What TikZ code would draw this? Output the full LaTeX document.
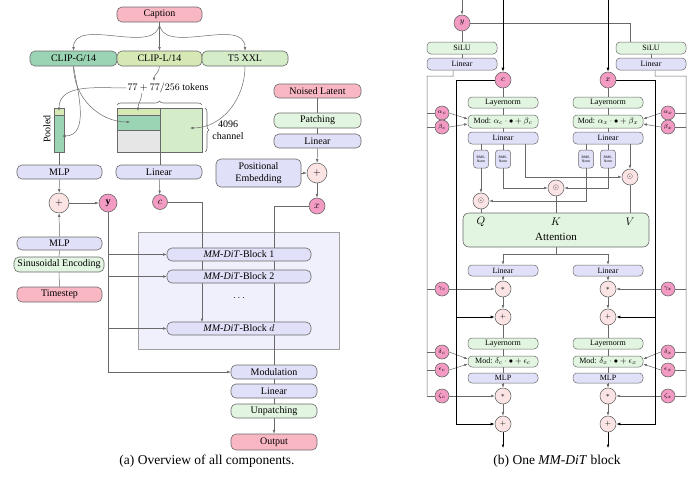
\documentclass[tikz,border=0pt]{standalone}
\usepackage{fontspec}
\setmainfont{Liberation Serif}
\usetikzlibrary{arrows.meta,calc,decorations.pathreplacing}
\pgfdeclarelayer{bg}
\pgfdeclarelayer{edges}
\pgfsetlayers{bg,edges,main}
\definecolor{pinkbox}{RGB}{249,183,195}
\definecolor{pinkc}{RGB}{244,155,196}
\definecolor{lpink}{RGB}{252,228,228}
\definecolor{clipgc}{RGB}{155,212,180}
\definecolor{cliplc}{RGB}{214,233,181}
\definecolor{tfivec}{RGB}{212,236,200}
\definecolor{lav}{RGB}{224,224,248}
\definecolor{lgreen}{RGB}{226,245,224}
\definecolor{mgray}{RGB}{230,230,230}
\definecolor{bigfill}{RGB}{240,240,252}
\definecolor{edgec}{RGB}{105,105,105}
\begin{document}
\begin{tikzpicture}[x=1pt,y=1pt,
  box/.style={draw=edgec, line width=0.6pt, rounded corners=5pt, inner sep=0pt, font=\fontsize{10}{11}\selectfont},
  sbox/.style={draw=edgec, line width=0.5pt, rounded corners=4pt, inner sep=0pt, font=\fontsize{8}{9}\selectfont},
  rms/.style={draw=edgec, line width=0.5pt, rounded corners=3pt, inner sep=0pt, fill=lav, minimum width=15, minimum height=18, align=center, font=\fontsize{3.6}{4}\selectfont},
  circ/.style={circle, draw=edgec, line width=0.6pt, inner sep=0pt},
  mc/.style={circ, fill=pinkc, minimum size=14, font=\fontsize{6}{6}\selectfont},
  oc/.style={circ, fill=lpink, minimum size=16, font=\fontsize{7}{7}\selectfont},
  ln/.style={draw=edgec, line width=0.5pt},
  arr/.style={ln, -{Latex[length=3.5pt,width=2.6pt]}},
  res/.style={draw=black, line width=0.9pt},
  resarr/.style={res, -{Latex[length=4pt,width=3pt]}}
]
\useasboundingbox (0,0) rectangle (700,-479);

% ================= LEFT PANEL =================
\node[box,fill=pinkbox,minimum width=85,minimum height=15] (caption) at (159.5,-14.5) {Caption};
\node[box,fill=clipgc,minimum width=87,minimum height=15] (clipg) at (73.5,-58.5) {CLIP-G/14};
\node[box,fill=cliplc,minimum width=85,minimum height=15] (clipl) at (159.5,-58.5) {CLIP-L/14};
\node[box,fill=tfivec,minimum width=86,minimum height=15] (tfive) at (245,-58.5) {T5 XXL};
\node[font=\fontsize{10}{11}\selectfont, inner sep=1pt] (tokens) at (168,-88) {$77+77/256$ tokens};
\node[font=\fontsize{10}{12}\selectfont, align=center, inner sep=0pt] (chan) at (228,-130) {4096\\channel};
\node[rotate=90, font=\fontsize{10}{11}\selectfont, inner sep=0pt] (pooledlbl) at (47,-129) {Pooled};

\coordinate (mLtop) at (138,-111);
\coordinate (mG) at (130,-122);
\coordinate (mT) at (190,-128);
\coordinate (mbot) at (160,-152);
\coordinate (pTop) at (59,-111);
\coordinate (pG) at (62,-136);
\coordinate (pbot) at (59,-152);
\coordinate (tokN) at (154,-81);
\coordinate (tokS) at (142,-93);

\node[box,fill=lav,minimum width=85,minimum height=14] (mlp1) at (59.5,-172) {MLP};
\node[box,fill=lav,minimum width=86,minimum height=14] (linear1) at (159,-172) {Linear};
\node[circ,fill=lpink,minimum size=20,font=\fontsize{10}{10}\selectfont] (plus1) at (59,-203) {$+$};
\node[circ,fill=pinkc,minimum size=18,font=\fontsize{10}{10}\selectfont] (ycirc) at (108,-203) {\textbf{y}};
\node[circ,fill=pinkc,minimum size=15,font=\fontsize{10}{10}\selectfont] (ccirc) at (160,-202) {$c$};
\node[box,fill=lav,minimum width=85,minimum height=13] (mlp2) at (59.5,-243.5) {MLP};
\node[box,fill=lgreen,minimum width=90,minimum height=15] (sinus) at (59,-264.5) {Sinusoidal Encoding};
\node[box,fill=pinkbox,minimum width=85,minimum height=15] (timestep) at (59.5,-294.5) {Timestep};

\node[box,fill=lav,minimum width=144,minimum height=13] (block1) at (239,-254.5) {\textit{MM-DiT}-Block 1};
\node[box,fill=lav,minimum width=144,minimum height=13] (block2) at (239,-276.5) {\textit{MM-DiT}-Block 2};
\node[box,fill=lav,minimum width=144,minimum height=13] (blockd) at (239,-328.5) {\textit{MM-DiT}-Block $d$};
\node[font=\fontsize{10}{10}\selectfont] (dots) at (239,-298) {$\cdots$};
\coordinate (cdn) at (202,-322);

\node[box,fill=pinkbox,minimum width=87,minimum height=14] (noised) at (317.5,-91) {Noised Latent};
\node[box,fill=lgreen,minimum width=87,minimum height=15] (patching) at (317.5,-120.5) {Patching};
\node[box,fill=lav,minimum width=87,minimum height=14] (linear2) at (317.5,-141) {Linear};
\node[circ,fill=lpink,minimum size=20,font=\fontsize{10}{10}\selectfont] (plus2) at (317,-173) {$+$};
\node[box,fill=lav,minimum width=85,minimum height=28,align=center,font=\fontsize{10}{12}\selectfont] (posemb) at (258.5,-173) {Positional\\Embedding};
\node[circ,fill=pinkc,minimum size=16,font=\fontsize{10}{10}\selectfont] (xcirc) at (317,-206) {$x$};

\node[box,fill=lav,minimum width=86,minimum height=14] (modulation) at (274,-372) {Modulation};
\node[box,fill=lav,minimum width=86,minimum height=14] (linear3) at (274,-391) {Linear};
\node[box,fill=lgreen,minimum width=86,minimum height=14] (unpatch) at (274,-411) {Unpatching};
\node[box,fill=pinkbox,minimum width=86,minimum height=16] (output) at (274,-442) {Output};

\node[font=\fontsize{13.5}{15}\selectfont] (capa) at (207,-461) {(a) Overview of all components.};
\node[font=\fontsize{13.5}{15}\selectfont] (capb) at (557,-461) {(b) One \textit{MM-DiT} block};

\begin{pgfonlayer}{bg}
  \draw[draw=gray!75, line width=1pt, fill=bigfill] (138,-232) rectangle (339,-349);
  \draw[edgec, line width=0.6pt, fill=cliplc] (117,-108) rectangle (160,-115);
  \draw[edgec, line width=0.6pt, fill=clipgc] (117,-115) rectangle (160,-130);
  \draw[edgec, line width=0.6pt, fill=mgray] (117,-130) rectangle (160,-152);
  \draw[edgec, line width=0.6pt, fill=tfivec] (160,-108) rectangle (202,-152);
  \draw[edgec, line width=0.6pt, fill=cliplc] (54,-108) rectangle (64,-115);
  \draw[edgec, line width=0.6pt, fill=clipgc] (54,-115) rectangle (64,-152);
  \draw[edgec, line width=0.6pt, decorate, decoration={brace, amplitude=4pt}] (117,-105) -- (202,-105);
  \draw[edgec, line width=0.6pt, decorate, decoration={brace, amplitude=4pt}] (205,-108) -- (205,-152);
\end{pgfonlayer}

\begin{pgfonlayer}{edges}
  \draw[arr] (caption.south) to[out=-90,in=90] (clipg.north);
  \draw[arr] (caption.south) -- (clipl.north);
  \draw[arr] (caption.south) to[out=-90,in=90] (tfive.north);
  \draw[arr] (clipl.south) to[out=-90,in=90] (tokN);
  \draw[arr] (tokens.west) to[out=180,in=90] (pTop);
  \draw[arr] (tokS) to[out=-95,in=90] (mLtop);
  \draw[arr] (clipg.south) to[out=-90,in=180] (mG);
  \draw[arr] (clipg.south) to[out=-80,in=0] (pG);
  \draw[arr] (tfive.south) to[out=-90,in=0] (mT);
  \draw[ln] (pbot) -- (pbot |- mlp1.north);
  \draw[ln] (mbot) -- (mbot |- linear1.north);
  \draw[arr] (mlp1) -- (plus1);
  \draw[arr] (plus1) -- (ycirc);
  \draw[arr] (linear1) -- (ccirc);
  \draw[ln] (timestep) -- (sinus);
  \draw[ln] (sinus) -- (mlp2);
  \draw[arr] (mlp2) -- (plus1);
  \draw[arr] (ycirc.south) |- (modulation.west);
  \draw[arr] (ycirc.south |- block1.west) -- (block1.west);
  \draw[arr] (ycirc.south |- block2.west) -- (block2.west);
  \draw[arr] (ycirc.south |- blockd.west) -- (blockd.west);
  \draw[arr] (ccirc.east) -| (cdn);
  \draw[ln] (noised) -- (patching);
  \draw[ln] (patching) -- (linear2);
  \draw[arr] (linear2) -- (plus2);
  \draw[arr] (posemb) -- (plus2);
  \draw[arr] (plus2) -- (xcirc);
  \draw[arr] (xcirc.west) -| (output.north);
\end{pgfonlayer}

% ================= RIGHT PANEL =================
\coordinate (topY) at (462,0);
\coordinate (topC) at (503,0);
\coordinate (topX) at (608,0);
\node[circ,fill=pinkc,minimum size=16,font=\fontsize{8}{8}\selectfont] (yR) at (462,-23) {$y$};
\node[sbox,fill=lgreen,minimum width=70,minimum height=12] (siluL) at (462,-48) {SiLU};
\node[sbox,fill=lav,minimum width=70,minimum height=12] (linTL) at (462,-64) {Linear};
\node[sbox,fill=lgreen,minimum width=70,minimum height=12] (siluR) at (651,-48) {SiLU};
\node[sbox,fill=lav,minimum width=70,minimum height=12] (linTR) at (651,-64) {Linear};
\node[circ,fill=pinkc,minimum size=16,font=\fontsize{8}{8}\selectfont] (cR) at (503,-80) {$c$};
\node[circ,fill=pinkc,minimum size=16,font=\fontsize{8}{8}\selectfont] (xR) at (608,-80) {$x$};

\node[sbox,fill=lgreen,minimum width=70,minimum height=11] (lnL) at (503,-102.5) {Layernorm};
\node[sbox,fill=lgreen,minimum width=70,minimum height=13] (modL) at (503,-121.5) {Mod: $\alpha_c\cdot\bullet+\beta_c$};
\node[sbox,fill=lav,minimum width=70,minimum height=12] (linL) at (503,-138) {Linear};
\node[sbox,fill=lgreen,minimum width=70,minimum height=11] (lnR) at (608,-102.5) {Layernorm};
\node[sbox,fill=lgreen,minimum width=70,minimum height=13] (modR) at (608,-121.5) {Mod: $\alpha_x\cdot\bullet+\beta_x$};
\node[sbox,fill=lav,minimum width=70,minimum height=12] (linR) at (608,-138) {Linear};

\node[rms] (rmsL1) at (481,-159) {RMS-\\Norm};
\node[rms] (rmsL2) at (503,-159) {RMS-\\Norm};
\node[rms] (rmsR1) at (586,-159) {RMS-\\Norm};
\node[rms] (rmsR2) at (608,-159) {RMS-\\Norm};

\node[oc] (qo) at (481,-201) {$\odot$};
\node[oc] (ko) at (556,-188) {$\odot$};
\node[oc] (vo) at (630,-177) {$\odot$};

\node[box,fill=lgreen,minimum width=186,minimum height=34,rounded corners=6pt] (att) at (556,-230) {};
\node[font=\fontsize{11}{11}\selectfont] (qlbl) at (481,-222) {$Q$};
\node[font=\fontsize{11}{11}\selectfont] (klbl) at (556,-222) {$K$};
\node[font=\fontsize{11}{11}\selectfont] (vlbl) at (630,-222) {$V$};
\node[font=\fontsize{11}{11}\selectfont] (attlbl) at (556,-237) {Attention};
\coordinate (asplit) at (556,-254);

\node[sbox,fill=lav,minimum width=70,minimum height=11] (lin3L) at (503,-270.5) {Linear};
\node[sbox,fill=lav,minimum width=70,minimum height=11] (lin3R) at (608,-270.5) {Linear};
\node[oc] (starL) at (503,-289) {$*$};
\node[oc] (starR) at (608,-289) {$*$};
\node[oc] (plusL) at (503,-317) {$+$};
\node[oc] (plusR) at (608,-317) {$+$};
\node[sbox,fill=lgreen,minimum width=70,minimum height=11] (ln2L) at (503,-343.5) {Layernorm};
\node[sbox,fill=lgreen,minimum width=70,minimum height=11] (mod2L) at (503,-361.5) {Mod: $\delta_c\cdot\bullet+\epsilon_c$};
\node[sbox,fill=lav,minimum width=70,minimum height=10] (mlpL) at (503,-378) {MLP};
\node[sbox,fill=lgreen,minimum width=70,minimum height=11] (ln2R) at (608,-343.5) {Layernorm};
\node[sbox,fill=lgreen,minimum width=70,minimum height=11] (mod2R) at (608,-361.5) {Mod: $\delta_x\cdot\bullet+\epsilon_x$};
\node[sbox,fill=lav,minimum width=70,minimum height=10] (mlpR) at (608,-378) {MLP};
\node[oc] (star2L) at (503,-396) {$*$};
\node[oc] (star2R) at (608,-396) {$*$};
\node[oc] (plus2L) at (503,-424) {$+$};
\node[oc] (plus2R) at (608,-424) {$+$};
\coordinate (endL) at (503,-448);
\coordinate (endR) at (608,-448);

\node[mc] (alc) at (442,-113) {$\alpha_c$};
\node[mc] (bec) at (442,-127) {$\beta_c$};
\node[mc] (gac) at (442,-289) {$\gamma_c$};
\node[mc] (dec) at (442,-352) {$\delta_c$};
\node[mc] (epc) at (442,-370) {$\epsilon_c$};
\node[mc] (zec) at (442,-396) {$\zeta_c$};
\node[mc] (alx) at (668,-113) {$\alpha_x$};
\node[mc] (bex) at (668,-127) {$\beta_x$};
\node[mc] (gax) at (668,-289) {$\gamma_x$};
\node[mc] (dex) at (668,-352) {$\delta_x$};
\node[mc] (epx) at (668,-370) {$\epsilon_x$};
\node[mc] (zex) at (668,-396) {$\zeta_x$};

\coordinate (gLtop) at (427,-76);
\coordinate (gLbot) at (427,-396);
\coordinate (gRtop) at (686,-76);
\coordinate (gRbot) at (686,-396);
\coordinate (rL1) at (456,-80);
\coordinate (rL2) at (456,-424);
\coordinate (rR1) at (655,-80);
\coordinate (rR2) at (655,-424);
\coordinate (yRdrop) at (630,-42);

\begin{pgfonlayer}{edges}
  \draw[arr] (topY) -- (yR);
  \draw[ln] (yR) -- (siluL);
  \draw[ln] (siluL) -- (linTL);
  \draw[ln] (yR.east) -| (yRdrop);
  \draw[ln] (siluR) -- (linTR);
  \draw[ln] ($(linTL.south)+(-9,0)$) -- ++(0,-6) -- (gLtop) -- (gLbot);
  \draw[ln] ($(linTR.south)+(4,0)$) -- ++(0,-6) -- (gRtop) -- (gRbot);
  \foreach \n in {alc,bec,gac,dec,epc,zec} { \draw[ln] (\n.west -| gLtop) -- (\n.west); }
  \foreach \n in {alx,bex,gax,dex,epx,zex} { \draw[ln] (\n.east -| gRtop) -- (\n.east); }
  \draw[arr] (alc.east) -- ($(modL.west)+(0,2.5)$);
  \draw[arr] (bec.east) -- ($(modL.west)+(0,-2.5)$);
  \draw[arr] (alx.west) -- ($(modR.east)+(0,2.5)$);
  \draw[arr] (bex.west) -- ($(modR.east)+(0,-2.5)$);
  \draw[arr] (dec.east) -- ($(mod2L.west)+(0,2.5)$);
  \draw[arr] (epc.east) -- ($(mod2L.west)+(0,-2.5)$);
  \draw[arr] (dex.west) -- ($(mod2R.east)+(0,2.5)$);
  \draw[arr] (epx.west) -- ($(mod2R.east)+(0,-2.5)$);
  \draw[arr] (gac) -- (starL);
  \draw[arr] (gax) -- (starR);
  \draw[arr] (zec) -- (star2L);
  \draw[arr] (zex) -- (star2R);

  \draw[resarr] (topC) -- (cR);
  \draw[resarr] (topX) -- (xR);
  \draw[resarr] (cR.west) -- (rL1) -- (rL2) -- (plus2L.west);
  \draw[resarr] (plusL.west -| rL1) -- (plusL.west);
  \draw[resarr] (xR.east) -- (rR1) -- (rR2) -- (plus2R.east);
  \draw[resarr] (plusR.east -| rR1) -- (plusR.east);

  \draw[ln] (cR) -- (lnL);
  \draw[ln] (lnL) -- (modL);
  \draw[ln] (modL) -- (linL);
  \draw[ln] (xR) -- (lnR);
  \draw[ln] (lnR) -- (modR);
  \draw[ln] (modR) -- (linR);
  \draw[ln] (linL.south -| rmsL1.north) -- (rmsL1.north);
  \draw[ln] (linL.south -| rmsL2.north) -- (rmsL2.north);
  \draw[ln] (linR.south -| rmsR1.north) -- (rmsR1.north);
  \draw[ln] (linR.south -| rmsR2.north) -- (rmsR2.north);
  \draw[arr] (rmsL1) -- (qo);
  \draw[arr] (rmsL2.south) |- (ko.west);
  \draw[arr] ($(linL.south)+(22,0)$) |- (vo.west);
  \draw[arr] (rmsR1.south) |- (qo.east);
  \draw[arr] (rmsR2.south) |- (ko.east);
  \draw[arr] ($(linR.south)+(22,0)$) -- (vo.north);
  \draw[ln] (qo.south) -- (qo.south |- att.north);
  \draw[ln] (ko.south) -- (ko.south |- att.north);
  \draw[ln] (vo.south) -- (vo.south |- att.north);
  \draw[ln] (att.south) -- (asplit);
  \draw[arr] (asplit) -| (lin3L.north);
  \draw[arr] (asplit) -| (lin3R.north);
  \draw[arr] (lin3L) -- (starL);
  \draw[arr] (lin3R) -- (starR);
  \draw[arr] (starL) -- (plusL);
  \draw[arr] (starR) -- (plusR);
  \draw[ln] (plusL) -- (ln2L);
  \draw[ln] (plusR) -- (ln2R);
  \draw[ln] (ln2L) -- (mod2L);
  \draw[ln] (ln2R) -- (mod2R);
  \draw[ln] (mod2L) -- (mlpL);
  \draw[ln] (mod2R) -- (mlpR);
  \draw[arr] (mlpL) -- (star2L);
  \draw[arr] (mlpR) -- (star2R);
  \draw[arr] (star2L) -- (plus2L);
  \draw[arr] (star2R) -- (plus2R);
  \draw[arr, draw=black] (plus2L) -- (endL);
  \draw[arr, draw=black] (plus2R) -- (endR);
\end{pgfonlayer}
\end{tikzpicture}
\end{document}
